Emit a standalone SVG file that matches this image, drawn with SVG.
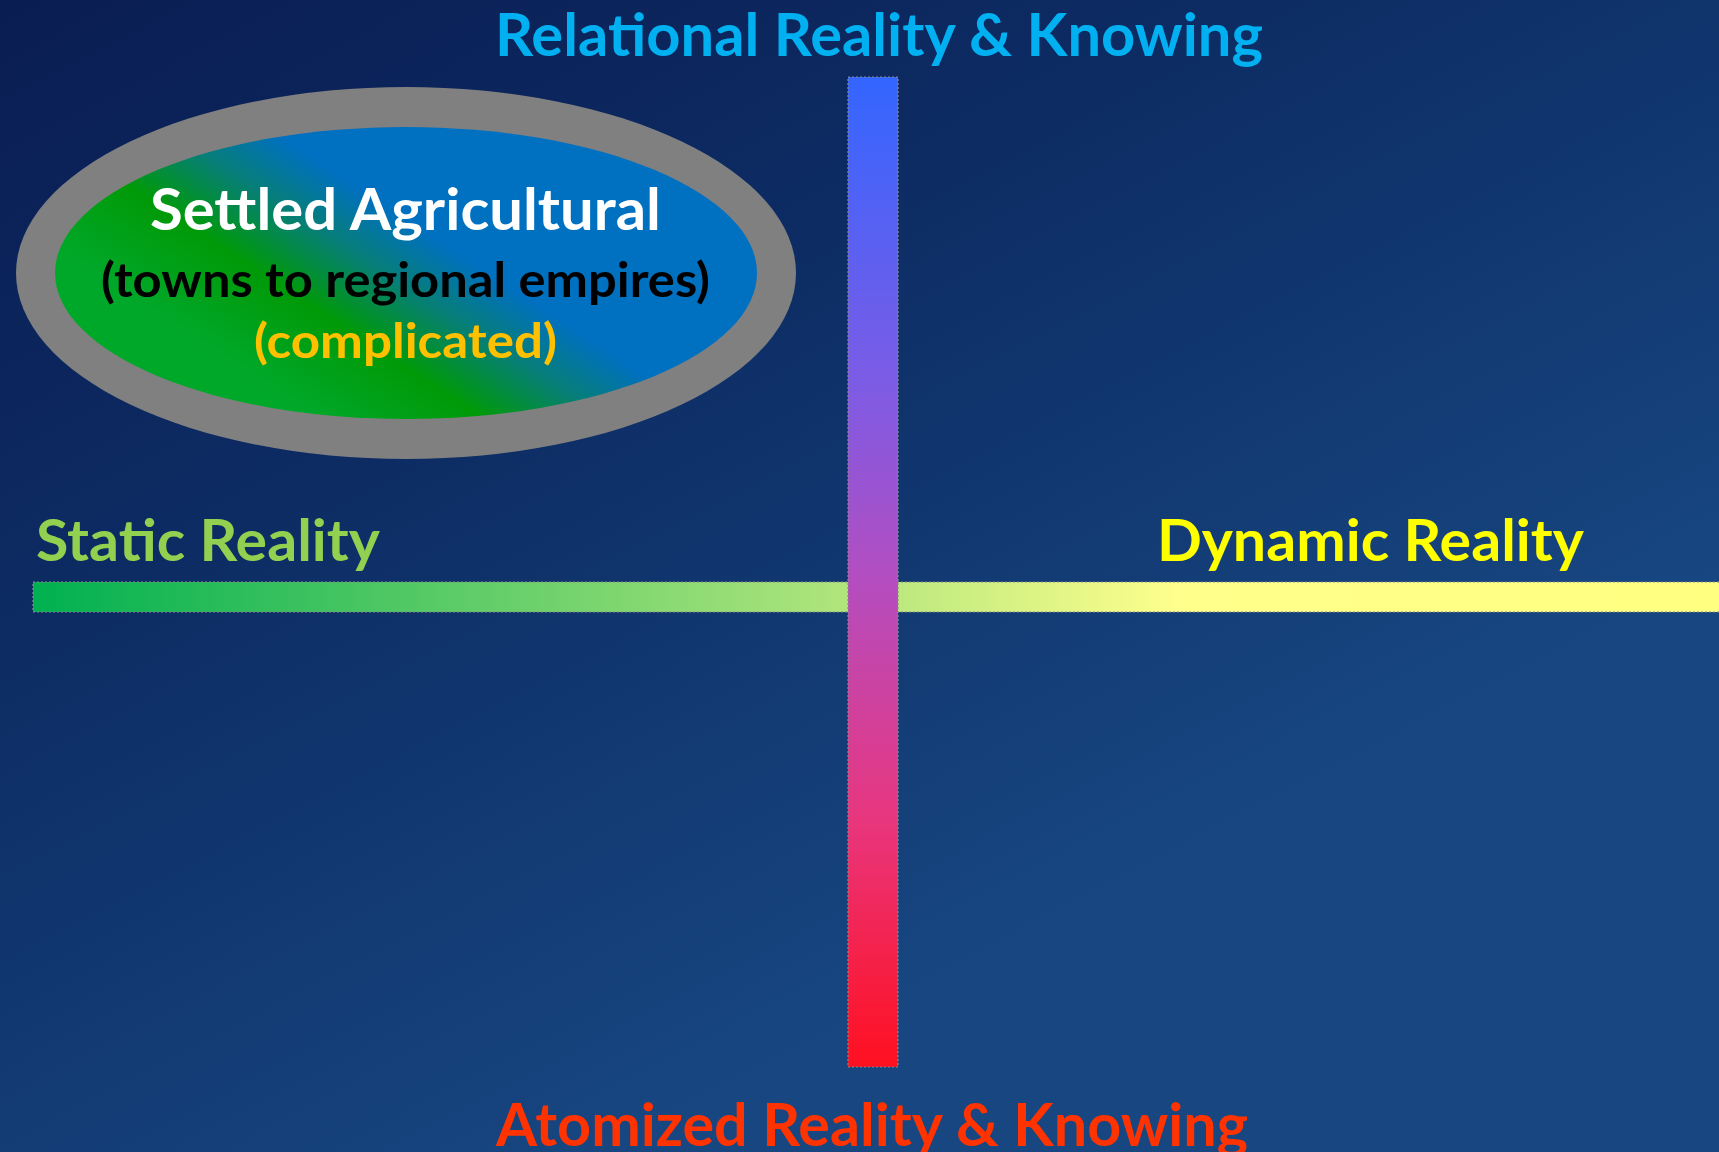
<svg xmlns="http://www.w3.org/2000/svg" width="1719" height="1152" viewBox="0 0 1719 1152">
<defs>
<linearGradient id="bg" x1="0" y1="0" x2="600" y2="1152" gradientUnits="userSpaceOnUse">
<stop offset="0" stop-color="#0a1d52"/>
<stop offset="0.45" stop-color="#0d2c64"/>
<stop offset="1" stop-color="#174680"/>
</linearGradient>
<linearGradient id="vbar" x1="0" y1="0" x2="0" y2="1">
<stop offset="0" stop-color="#3366ff"/>
<stop offset="0.3" stop-color="#7a5ce6"/>
<stop offset="0.5" stop-color="#b24ec2"/>
<stop offset="0.75" stop-color="#e8367e"/>
<stop offset="1" stop-color="#ff1020"/>
</linearGradient>
<linearGradient id="hbar" x1="0" y1="0" x2="1" y2="0">
<stop offset="0" stop-color="#00b050"/>
<stop offset="0.48" stop-color="#b0e57c"/>
<stop offset="0.68" stop-color="#ffff8c"/>
<stop offset="1" stop-color="#ffff80"/>
</linearGradient>
<linearGradient id="inner" x1="300" y1="410" x2="470" y2="150" gradientUnits="userSpaceOnUse">
<stop offset="0" stop-color="#00a82a"/>
<stop offset="0.3" stop-color="#009a08"/>
<stop offset="0.52" stop-color="#067e78"/>
<stop offset="0.7" stop-color="#0070c0"/>
<stop offset="1" stop-color="#0070c0"/>
</linearGradient>
</defs>
<style>
.t{font-family:Lato,"Open Sans","Liberation Sans",sans-serif;font-weight:bold;}
.bar{stroke:#8a8a8a;stroke-width:1.2;stroke-dasharray:2 2;}
</style>
<rect width="1719" height="1152" fill="url(#bg)"/>
<g id="axes">
<rect id="h-axis" class="bar" x="33" y="582" width="1690" height="30" fill="url(#hbar)"/>
<rect id="v-axis" class="bar" x="848" y="77" width="50" height="990" fill="url(#vbar)"/>
</g>
<g id="label-top"><text class="t" x="495" y="56" font-size="59" fill="#00b0f0" textLength="768" lengthAdjust="spacingAndGlyphs">Relational Reality &amp; Knowing</text></g>
<g id="label-bottom"><text class="t" x="496" y="1146" font-size="60" fill="#ff3300" textLength="752" lengthAdjust="spacingAndGlyphs">Atomized Reality &amp; Knowing</text></g>
<g id="label-left"><text class="t" x="36" y="561" font-size="58" fill="#92d050" textLength="344" lengthAdjust="spacingAndGlyphs">Static Reality</text></g>
<g id="label-right"><text class="t" x="1157" y="561" font-size="58" fill="#ffff00" textLength="427" lengthAdjust="spacingAndGlyphs">Dynamic Reality</text></g>
<g id="settled-agricultural">
<ellipse cx="406" cy="273" rx="390" ry="186" fill="#808080"/>
<ellipse cx="406" cy="273" rx="351" ry="146" fill="url(#inner)"/>
<text class="t" x="150" y="230" font-size="58" fill="#ffffff" textLength="511" lengthAdjust="spacingAndGlyphs">Settled Agricultural</text>
<text class="t" x="101" y="297" font-size="48" fill="#000000" textLength="609" lengthAdjust="spacingAndGlyphs">(towns to regional empires)</text>
<text class="t" x="254" y="358" font-size="48" fill="#ffc000" textLength="303" lengthAdjust="spacingAndGlyphs">(complicated)</text>
</g>
</svg>
